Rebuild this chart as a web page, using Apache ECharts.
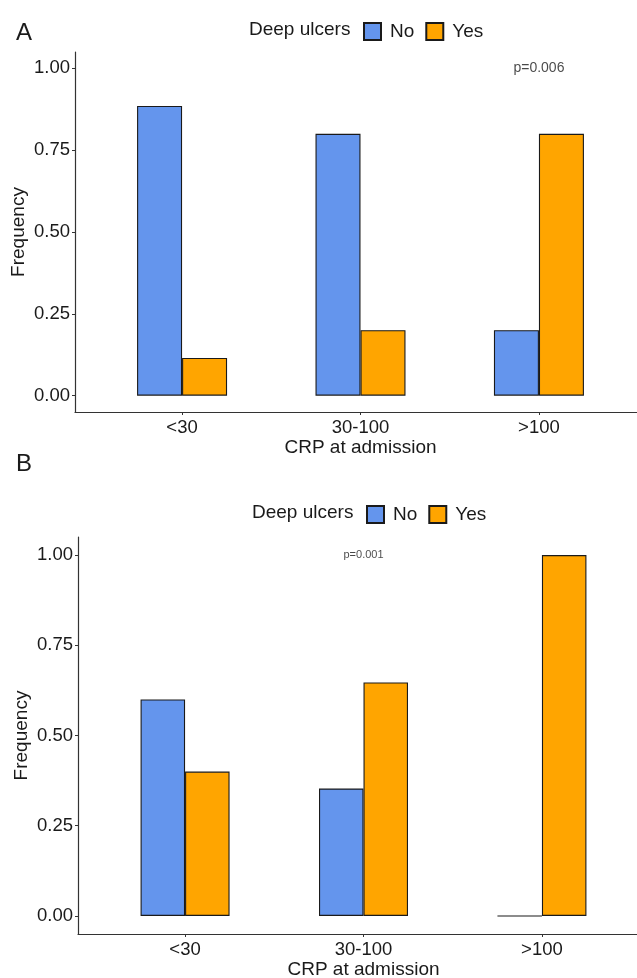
<!DOCTYPE html>
<html>
<head>
<meta charset="utf-8">
<script src="https://cdn.jsdelivr.net/npm/echarts@6/dist/echarts.min.js"></script>
<style>
html,body{margin:0;padding:0;background:#fff;}
#chart{width:637px;height:978px;}
</style>
</head>
<body>
<div id="chart"></div>
<script>
// ---- data ----
const categories = ['<30', '30-100', '>100'];
const seriesNames = ['No', 'Yes'];
const noA = [0.885, 0.80, 0.20];
const yesA = [0.115, 0.20, 0.80];
const noB = [0.60, 0.353, 0.0];
const yesB = [0.40, 0.647, 1.0];
const yTicks = [0, 0.25, 0.5, 0.75, 1.0];
const pTextA = 'p=0.006';
const pPosA = [3, 1];
const pTextB = 'p=0.001';
const pPosB = [2, 1];

const colNo = '#6495ED';
const colYes = '#FFA500';
const FONT = '"Liberation Sans", Arial, Helvetica, sans-serif';
const TXT = '#1a1a1a';
const xPos = categories.map((c, i) => i + 1);

function toXY(vals) { return vals.map((v, i) => [xPos[i], v]); }

function xAxisCfg(gi, max, gap) {
  return {
    type: 'value', gridIndex: gi, min: 0.4, max: max,
    name: 'CRP at admission', nameLocation: 'middle', nameGap: gap,
    nameTextStyle: { fontFamily: FONT, fontSize: 19, color: TXT },
    axisLine: { show: true, onZero: false, lineStyle: { color: '#333', width: 1.2 } },
    axisTick: { show: true, length: 3, customValues: xPos, lineStyle: { color: '#333' } },
    axisLabel: { customValues: xPos, margin: 6, fontFamily: FONT, fontSize: 18.5, color: TXT,
      formatter: v => categories[Math.round(v) - 1] || '' },
    splitLine: { show: false }
  };
}
function yAxisCfg(gi, gap) {
  return {
    type: 'value', gridIndex: gi, min: -0.05, max: 1.05,
    name: 'Frequency', nameLocation: 'middle', nameRotate: 90, nameGap: gap,
    nameMoveOverlap: false,
    nameTextStyle: { fontFamily: FONT, fontSize: 19, color: TXT },
    axisLine: { show: true, onZero: false, lineStyle: { color: '#333', width: 1.2 } },
    axisTick: { show: true, length: 3, customValues: yTicks, lineStyle: { color: '#333' } },
    axisLabel: { customValues: yTicks, margin: 5, fontFamily: FONT, fontSize: 18.5, color: TXT,
      formatter: v => v.toFixed(2) },
    splitLine: { show: false }
  };
}
function barSeries(name, data, gi, color, w) {
  return {
    type: 'bar', name: name, xAxisIndex: gi, yAxisIndex: gi,
    data: toXY(data), barWidth: w, barGap: '0%',
    itemStyle: { color: color, borderColor: '#1a1a1a', borderWidth: 1.1 }
  };
}
function pSeries(text, pos, gi, size) {
  return {
    type: 'scatter', name: 'p' + gi, xAxisIndex: gi, yAxisIndex: gi,
    data: [pos], symbolSize: 0, silent: true,
    label: { show: true, position: 'inside', formatter: text, fontFamily: FONT, fontSize: size, color: TXT }
  };
}
function legendCfg(left, top) {
  return {
    data: seriesNames, left: left, top: top, icon: 'rect', itemWidth: 17, itemHeight: 17, itemGap: 11,
    textStyle: { fontFamily: FONT, fontSize: 19, color: TXT, padding: [0, 0, 0, 4] }, selectedMode: false
  };
}

const chart = echarts.init(document.getElementById('chart'), null, { renderer: 'canvas' });
chart.setOption({
  animation: false,
  backgroundColor: '#fff',
  title: [
    { text: 'A', left: 11, top: 16, textStyle: { fontFamily: FONT, fontSize: 24, fontWeight: 'normal', color: TXT } },
    { text: 'Deep ulcers', left: 244, top: 15, textStyle: { fontFamily: FONT, fontSize: 19, fontWeight: 'normal', color: TXT } },
    { text: 'B', left: 11, top: 447, textStyle: { fontFamily: FONT, fontSize: 24, fontWeight: 'normal', color: TXT } },
    { text: 'Deep ulcers', left: 247, top: 498, textStyle: { fontFamily: FONT, fontSize: 19, fontWeight: 'normal', color: TXT } }
  ],
  legend: [legendCfg(358, 17), legendCfg(361, 500)],
  grid: [
    { left: 75, width: 571, top: 52, height: 360, outerBoundsMode: 'none' },
    { left: 78, width: 571, top: 537, height: 397, outerBoundsMode: 'none' }
  ],
  xAxis: [xAxisCfg(0, 3.6, 21), xAxisCfg(1, 3.6, 24)],
  yAxis: [yAxisCfg(0, 47), yAxisCfg(1, 47)],
  series: [
    barSeries('No', noA, 0, colNo, 45),
    barSeries('Yes', yesA, 0, colYes, 45),
    barSeries('No', noB, 1, colNo, 44.5),
    barSeries('Yes', yesB, 1, colYes, 44.5),
    pSeries(pTextA, pPosA, 0, 14),
    pSeries(pTextB, pPosB, 1, 11)
  ]
});
</script>
</body>
</html>
